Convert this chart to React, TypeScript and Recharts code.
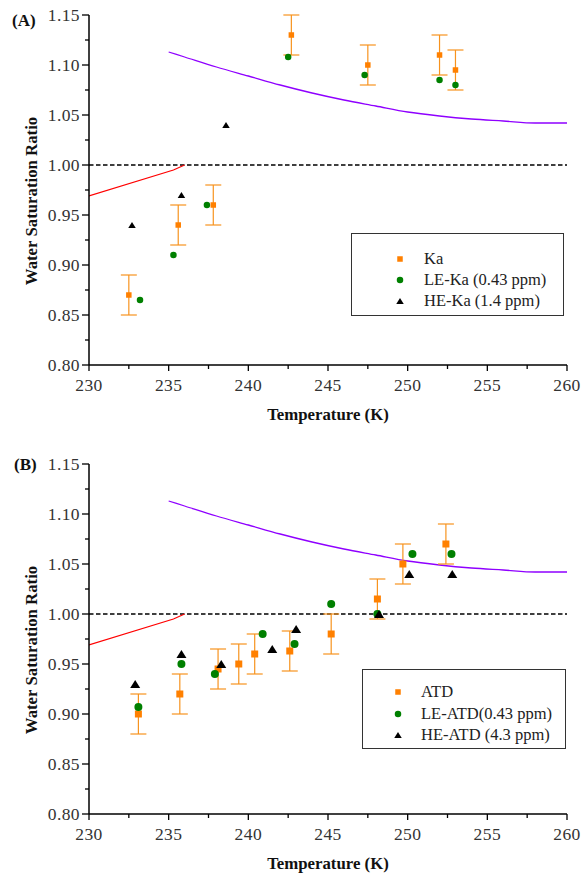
import React from "react";
import {
  ComposedChart,
  Scatter,
  Line,
  XAxis,
  YAxis,
  ErrorBar,
  ReferenceLine,
  Legend,
  Label,
} from "recharts";

// Axis ticks: majors every 5 K / 0.05, minors halfway between
const X_TICKS = [230, 232.5, 235, 237.5, 240, 242.5, 245, 247.5, 250, 252.5, 255, 257.5, 260];
const Y_TICKS = [
  0.8, 0.825, 0.85, 0.875, 0.9, 0.925, 0.95, 0.975, 1.0, 1.025, 1.05, 1.075, 1.1, 1.125, 1.15,
];

// Panel A – kaolinite
const kaTemp = [232.5, 235.6, 237.8, 242.7, 247.5, 252.0, 253.0];
const kaRatio = [0.87, 0.94, 0.96, 1.13, 1.1, 1.11, 1.095];
const kaErr = [0.02, 0.02, 0.02, 0.02, 0.02, 0.02, 0.02];
const leKaTemp = [233.2, 235.3, 237.4, 242.5, 247.3, 252.0, 253.0];
const leKaRatio = [0.865, 0.91, 0.96, 1.108, 1.09, 1.085, 1.08];
const heKaTemp = [232.7, 235.8, 238.6];
const heKaRatio = [0.94, 0.97, 1.04];

// Panel B – ATD
const atdTemp = [233.1, 235.7, 238.1, 239.4, 240.4, 242.6, 245.2, 248.1, 249.7, 252.4];
const atdRatio = [0.9, 0.92, 0.945, 0.95, 0.96, 0.963, 0.98, 1.015, 1.05, 1.07];
const atdErr = [0.02, 0.02, 0.02, 0.02, 0.02, 0.02, 0.02, 0.02, 0.02, 0.02];
const leAtdTemp = [233.1, 235.8, 237.9, 240.9, 242.9, 245.2, 248.1, 250.3, 252.75];
const leAtdRatio = [0.907, 0.95, 0.94, 0.98, 0.97, 1.01, 1.0, 1.06, 1.06];
const heAtdTemp = [232.9, 235.8, 238.3, 241.5, 243.0, 248.2, 250.1, 252.8];
const heAtdRatio = [0.93, 0.96, 0.95, 0.965, 0.985, 1.0, 1.04, 1.04];

// Reference curves (same in both panels)
const upperTemp = [235, 236, 238, 240, 242, 244, 246, 248, 250, 252, 254, 256, 258, 260];
const upperRatio = [1.113, 1.108, 1.098, 1.089, 1.08, 1.072, 1.065, 1.059, 1.053, 1.049, 1.046, 1.044, 1.042, 1.042];
const lowerTemp = [230, 235.3, 236];
const lowerRatio = [0.969, 0.995, 1.0];

const kaNames = ["Ka", "LE-Ka (0.43 ppm)", "HE-Ka (1.4 ppm)"];
const atdNames = ["ATD", "LE-ATD(0.43 ppm)", "HE-ATD (4.3 ppm)"];

const SERIF = "'Liberation Serif', 'Times New Roman', serif";
const ORANGE = "#ff8000";
const ERR = "#f7931e";
const GREEN = "#008000";
const PURPLE = "#8f00ff";

type Pt = { t: number; r: number; e?: number };
const zip = (t: number[], r: number[], e?: number[]): Pt[] =>
  t.map((v, i) => ({ t: v, r: r[i], e: e ? e[i] : undefined }));

const upper = zip(upperTemp, upperRatio);
const lower = zip(lowerTemp, lowerRatio);

type Kind = "square" | "circle" | "triangle";

function Marker({ kind, cx, cy, s }: { kind: Kind; cx: number; cy: number; s: number }) {
  if (kind === "square") {
    return <rect x={cx - s / 2} y={cy - s / 2} width={s} height={s} fill={ORANGE} />;
  }
  if (kind === "circle") {
    return <circle cx={cx} cy={cy} r={s / 2} fill={GREEN} />;
  }
  const h = s * 0.8;
  return (
    <polygon
      points={`${cx},${cy - h / 2} ${cx - s / 2},${cy + h / 2} ${cx + s / 2},${cy + h / 2}`}
      fill="#000"
    />
  );
}

const XTick = (props: any) => {
  const { x, y, payload } = props;
  const major = payload.value % 5 === 0;
  return (
    <g>
      <line x1={x} x2={x} y1={y} y2={y + (major ? 6 : 4)} stroke="#000" strokeWidth={1.3} />
      {major && (
        <text x={x} y={y + 26} textAnchor="middle" fontFamily={SERIF} fontSize={17.5} letterSpacing={0.4} fill="#333">
          {payload.value}
        </text>
      )}
    </g>
  );
};

const YTick = (props: any) => {
  const { x, y, payload } = props;
  const major = Math.round(payload.value * 1000) % 50 === 0;
  return (
    <g>
      <line x1={x - (major ? 7 : 4)} x2={x} y1={y} y2={y} stroke="#000" strokeWidth={1.3} />
      {major && (
        <text x={x - 9} y={y + 6} textAnchor="end" fontFamily={SERIF} fontSize={17.5} letterSpacing={0.4} fill="#333">
          {payload.value.toFixed(2)}
        </text>
      )}
    </g>
  );
};

interface LegendBox {
  left: number;
  top: number;
  width: number;
  height: number;
  firstRow: number;
  rowGap: number;
  markerX: number;
  textX: number;
}

interface PanelProps {
  letter: string;
  letterX: number;
  letterY: number;
  height: number;
  sizes: [number, number, number];
  sq: Pt[];
  ci: Pt[];
  tri: Pt[];
  names: string[];
  box: LegendBox;
}

function Panel({ letter, letterX, letterY, height, sizes, sq, ci, tri, names, box }: PanelProps) {
  const kinds: Kind[] = ["square", "circle", "triangle"];
  const legendSizes = [5.5, 6.5, 7.5];
  return (
    <ComposedChart
      width={581}
      height={height}
      margin={{ top: 15, right: 14, bottom: height - 15 - 350 - 60, left: 0 }}
    >
      <XAxis
        type="number"
        dataKey="t"
        domain={[230, 260]}
        ticks={X_TICKS}
        interval={0}
        allowDataOverflow
        height={60}
        tickSize={0}
        tickMargin={0}
        tick={XTick}
        axisLine={{ stroke: "#000", strokeWidth: 1.5 }}
      >
        <Label
          content={(p: any) => (
            <text
              x={p.viewBox.x + p.viewBox.width / 2}
              y={p.viewBox.y + 55}
              textAnchor="middle"
              fontFamily={SERIF}
              fontWeight="bold"
              fontSize={16.8}
              fill="#111"
            >
              Temperature (K)
            </text>
          )}
        />
      </XAxis>
      <YAxis
        type="number"
        domain={[0.8, 1.15]}
        ticks={Y_TICKS}
        interval={0}
        allowDataOverflow
        width={89}
        tickSize={0}
        tickMargin={0}
        tick={YTick}
        axisLine={{ stroke: "#000", strokeWidth: 1.5 }}
      >
        <Label
          content={(p: any) => {
            const cy = p.viewBox.y + p.viewBox.height / 2 + 11;
            return (
              <g fontFamily={SERIF} fontWeight="bold" fontSize={16.8} fill="#111">
                <text x={37} y={cy} textAnchor="middle" transform={`rotate(-90, 37, ${cy})`}>
                  Water Saturation Ratio
                </text>
                <text x={letterX} y={letterY} fontSize={17}>
                  {letter}
                </text>
              </g>
            );
          }}
        />
      </YAxis>
      <ReferenceLine y={1} stroke="#000" strokeWidth={1.3} strokeDasharray="4.5 2.5" ifOverflow="extendDomain" />
      <Line
        data={upper}
        dataKey="r"
        type="monotone"
        stroke={PURPLE}
        strokeWidth={1.3}
        dot={false}
        isAnimationActive={false}
        legendType="none"
      />
      <Line
        data={lower}
        dataKey="r"
        type="linear"
        stroke="#ff0000"
        strokeWidth={1.2}
        dot={false}
        isAnimationActive={false}
        legendType="none"
      />
      <Scatter
        data={sq}
        dataKey="r"
        isAnimationActive={false}
        shape={(p: any) => <Marker kind="square" cx={p.cx} cy={p.cy} s={sizes[0]} />}
      >
        <ErrorBar dataKey="e" direction="y" width={8} stroke={ERR} strokeWidth={1.2} />
      </Scatter>
      <Scatter
        data={ci}
        dataKey="r"
        isAnimationActive={false}
        shape={(p: any) => <Marker kind="circle" cx={p.cx} cy={p.cy} s={sizes[1]} />}
      />
      <Scatter
        data={tri}
        dataKey="r"
        isAnimationActive={false}
        shape={(p: any) => <Marker kind="triangle" cx={p.cx} cy={p.cy} s={sizes[2]} />}
      />
      <Legend
        layout="vertical"
        align="center"
        verticalAlign="middle"
        wrapperStyle={{ left: box.left, top: box.top, width: box.width, height: box.height }}
        content={() => (
          <div
            style={{
              position: "relative",
              width: box.width,
              height: box.height,
              boxSizing: "border-box",
              border: "1px solid #333",
              background: "#fff",
              fontFamily: SERIF,
              fontSize: 16.5,
              color: "#222",
            }}
          >
            {names.map((name, i) => (
              <div
                key={name}
                style={{
                  position: "absolute",
                  left: 0,
                  top: box.firstRow + i * box.rowGap - 10,
                  height: 20,
                  width: "100%",
                }}
              >
                <svg
                  width={12}
                  height={12}
                  style={{ position: "absolute", left: box.markerX - 6, top: 4 }}
                >
                  <Marker kind={kinds[i]} cx={6} cy={6} s={legendSizes[i]} />
                </svg>
                <span style={{ position: "absolute", left: box.textX, top: 0, lineHeight: "20px", whiteSpace: "nowrap" }}>
                  {name}
                </span>
              </div>
            ))}
          </div>
        )}
      />
    </ComposedChart>
  );
}

export default function App() {
  return (
    <div style={{ position: "absolute", left: 0, top: 0, width: 581, height: 874, background: "#fff" }}>
      <Panel
        letter="(A)"
        letterX={12}
        letterY={26}
        height={449}
        sizes={[5.5, 6.5, 7.5]}
        sq={zip(kaTemp, kaRatio, kaErr)}
        ci={zip(leKaTemp, leKaRatio)}
        tri={zip(heKaTemp, heKaRatio)}
        names={kaNames}
        box={{ left: 351, top: 233, width: 213, height: 83, firstRow: 25, rowGap: 21, markerX: 48, textX: 72 }}
      />
      <Panel
        letter="(B)"
        letterX={14}
        letterY={21}
        height={425}
        sizes={[7, 8, 10]}
        sq={zip(atdTemp, atdRatio, atdErr)}
        ci={zip(leAtdTemp, leAtdRatio)}
        tri={zip(heAtdTemp, heAtdRatio)}
        names={atdNames}
        box={{ left: 362, top: 220, width: 204, height: 80, firstRow: 22, rowGap: 21.5, markerX: 35, textX: 58 }}
      />
    </div>
  );
}
